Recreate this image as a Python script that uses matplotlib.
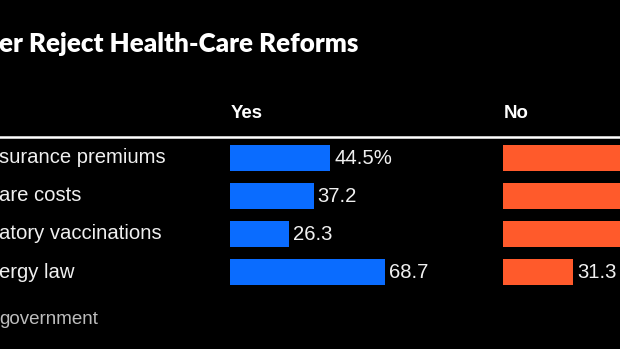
import matplotlib
matplotlib.use("Agg")
import matplotlib.pyplot as plt

W, H = 620, 349
DPI = 100

categories = ["surance premiums", "are costs", "atory vaccinations", "ergy law"]
yes_values = [44.5, 37.2, 26.3, 68.7]
no_values = [55.5, 62.8, 73.7, 31.3]
title = "er Reject Health-Care Reforms"
footer = "government"
col_titles = ["Yes", "No"]

BLUE = "#0a6cff"
ORANGE = "#ff5a2b"

fig = plt.figure(figsize=(W / DPI, H / DPI), dpi=DPI, facecolor="black")

def fx(px):
    return px / W

def fy(py):
    return 1 - py / H

top, bottom = 139, 291
scale_px = 225  # pixels per 100 units

def make_ax(left_px):
    ax = fig.add_axes([fx(left_px), fy(bottom), scale_px / W, (bottom - top) / H])
    ax.set_xlim(0, 100)
    ax.set_ylim(len(categories) - 0.5, -0.5)
    ax.axis("off")
    ax.set_facecolor("none")
    return ax

ax_yes = make_ax(230)
ax_no = make_ax(503)

ypos = list(range(len(categories)))
ax_yes.barh(ypos, yes_values, height=0.68, color=BLUE, clip_on=False)
ax_no.barh(ypos, no_values, height=0.68, color=ORANGE, clip_on=False)

def add_labels(ax, left_px, values):
    for i, v in enumerate(values):
        # labels that would start beyond the right edge are not visible in the reference
        if left_px + (v + 1.8) * scale_px / 100 > W - 40:
            continue
        lab = f"{v}%" if i == 0 else f"{v}"
        ax.text(v + 1.8, i, lab, va="center", ha="left", color="#f0f0f0",
                fontsize=14.6, family="Liberation Sans", clip_on=False)

add_labels(ax_yes, 230, yes_values)
add_labels(ax_no, 503, no_values)

for i, c in enumerate(categories):
    ypx = 157.5 + i * 38.2
    fig.text(fx(-1), fy(ypx), c, ha="left", va="center", color="#f0f0f0",
             fontsize=14.6, family="Liberation Sans")

fig.text(fx(231), fy(113), col_titles[0], ha="left", va="center", color="white",
         fontsize=13.4, fontweight="bold", family="Liberation Sans")
fig.text(fx(504), fy(113), col_titles[1], ha="left", va="center", color="white",
         fontsize=13.4, fontweight="bold", family="Liberation Sans")

fig.add_artist(plt.Line2D([0, 1], [fy(137), fy(137)], color="white", lw=1.8,
                          transform=fig.transFigure))

fig.text(fx(-1), fy(44), title, ha="left", va="center", color="white",
         fontsize=18.7, fontweight="heavy", family="Lato")

fig.text(fx(-1), fy(319), footer, ha="left", va="center", color="#bdbdbd",
         fontsize=13.5, family="Liberation Sans")

fig.savefig("out.png", dpi=DPI, facecolor="black")
